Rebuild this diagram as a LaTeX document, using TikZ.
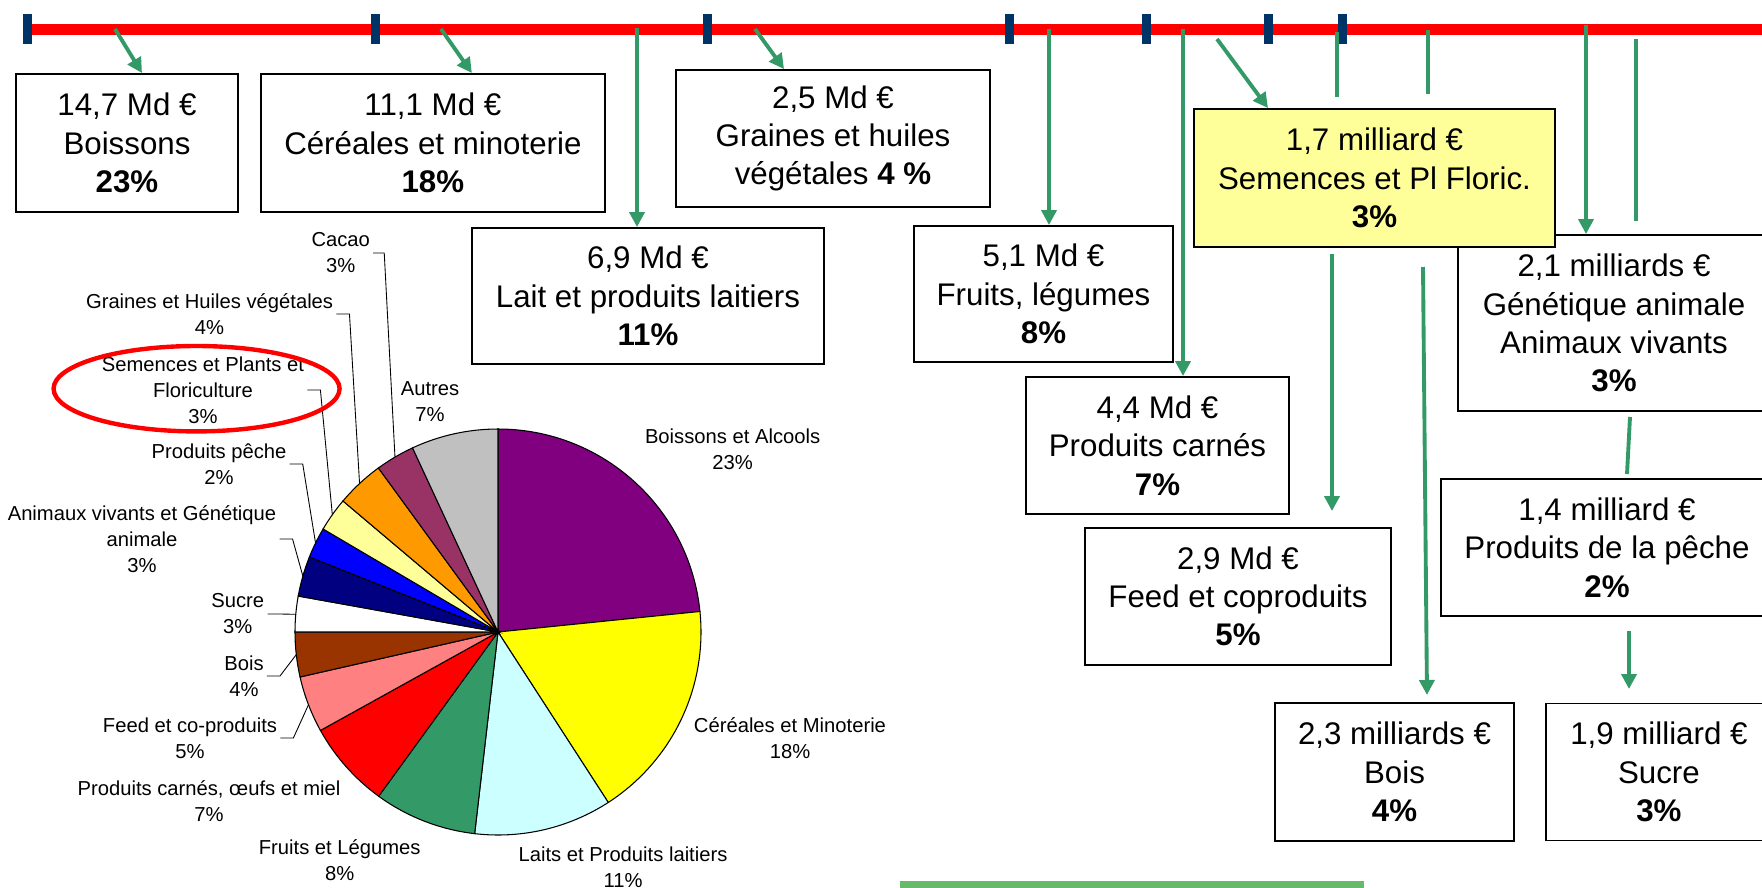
\documentclass[tikz,border=0pt]{standalone}
\usepackage{fontspec}
\setmainfont{Liberation Sans}
\usetikzlibrary{positioning, arrows.meta, calc}
\definecolor{flowgreen}{RGB}{51,153,102}
\definecolor{barnavy}{RGB}{0,51,102}
\definecolor{boxyellow}{RGB}{255,255,153}
\definecolor{bargreen}{RGB}{102,187,106}
\definecolor{cPurple}{RGB}{128,0,128}
\definecolor{cYellow}{RGB}{255,255,0}
\definecolor{cCyan}{RGB}{204,255,255}
\definecolor{cGreen}{RGB}{51,153,102}
\definecolor{cRed}{RGB}{255,0,0}
\definecolor{cSalmon}{RGB}{255,128,128}
\definecolor{cBrown}{RGB}{153,51,0}
\definecolor{cNavy}{RGB}{0,0,128}
\definecolor{cBlue}{RGB}{0,0,255}
\definecolor{cLight}{RGB}{255,255,153}
\definecolor{cOrange}{RGB}{255,153,0}
\definecolor{cPlum}{RGB}{153,51,102}
\definecolor{cGrey}{RGB}{192,192,192}
\tikzset{
  block/.style={
    draw,
    rectangle,
    line width=1.1pt,
    align=center,
    inner sep=0pt,
    font=\fontsize{17.8}{21.8}\selectfont
  },
  pielabel/.style={
    align=center,
    inner sep=1.7pt,
    font=\fontsize{11.5}{14.8}\selectfont
  },
  flow/.style={
    draw=flowgreen,
    line width=2.2pt,
    -{Triangle[length=0.3cm, width=0.3cm]}
  },
  flowline/.style={draw=flowgreen, line width=2.2pt},
  leader/.style={draw=black, line width=0.5pt},
  tickmark/.style={fill=barnavy}
}
\newcommand{\pieslice}[3]{%
  \filldraw[fill=#3, draw=black, line width=0.6pt] (pie) -- ++(#1:203)
    arc[start angle=#1, end angle=#2, radius=203] -- cycle;}

\begin{document}
\begin{tikzpicture}[x=0.02cm, y=-0.02cm]
        \useasboundingbox (0,0) rectangle (1762,887);
        \clip (0,0) rectangle (1762,887);

        % time line
        \draw[red, line width=0.214cm] (27,29.5) -- (1780,29.5);
        \fill[tickmark] (22.5,14) rectangle (31.5,44);
        \fill[tickmark] (370.5,14) rectangle (379.5,44);
        \fill[tickmark] (702.5,14) rectangle (711.5,44);
        \fill[tickmark] (1004.5,14) rectangle (1013.5,44);
        \fill[tickmark] (1141.5,14) rectangle (1150.5,44);
        \fill[tickmark] (1263.5,14) rectangle (1272.5,44);
        \fill[tickmark] (1337.5,14) rectangle (1346.5,44);

        % boxes
        \node[block, minimum width=4.44cm, minimum height=2.76cm] (boissons) at (127,143) {14,7 Md €\\Boissons\\\textbf{23\%}};
        \node[block, minimum width=6.88cm, minimum height=2.76cm, right=0.42cm of boissons] (cereales) {11,1 Md €\\Céréales et minoterie\\\textbf{18\%}};
        \node[block, minimum width=6.28cm, minimum height=2.74cm] (graines) at (833,138.5) {2,5 Md €\\Graines et huiles\\végétales \textbf{4 \%}};
        \node[block, minimum width=7.04cm, minimum height=2.72cm] (lait) at (648,296) {6,9 Md €\\Lait et produits laitiers\\\textbf{11\%}};
        \node[block, minimum width=5.18cm, minimum height=2.72cm] (fruits) at (1043.5,294) {5,1 Md €\\Fruits, légumes\\\textbf{8\%}};
        \node[block, minimum width=6.24cm, minimum height=3.52cm] (genetique) at (1614,323) {2,1 milliards €\\Génétique animale\\Animaux vivants\\\textbf{3\%}};
        \node[block, fill=boxyellow, minimum width=7.22cm, minimum height=2.76cm] (semences) at (1374.5,178) {1,7 milliard €\\Semences et Pl Floric.\\\textbf{3\%}};
        \node[block, minimum width=5.26cm, minimum height=2.74cm] (carnes) at (1157.5,445.5) {4,4 Md €\\Produits carnés\\\textbf{7\%}};
        \node[block, minimum width=6.12cm, minimum height=2.74cm] (feed) at (1238,596.5) {2,9 Md €\\Feed et coproduits\\\textbf{5\%}};
        \node[block, minimum width=6.64cm, minimum height=2.74cm] (peche) at (1607,547.5) {1,4 milliard €\\Produits de la pêche\\\textbf{2\%}};
        \node[block, minimum width=4.78cm, minimum height=2.76cm] (bois) at (1394.5,772) {2,3 milliards €\\Bois\\\textbf{4\%}};
        \node[block, minimum width=4.52cm, minimum height=2.74cm, right=0.6cm of bois] (sucre) {1,9 milliard €\\Sucre\\\textbf{3\%}};

        % arrows from the time line
        \coordinate (s1) at (115,29);
        \coordinate (s2) at (441,29);
        \coordinate (s3) at (637,28);
        \coordinate (s4) at (755,29);
        \coordinate (s5) at (1049,29);
        \coordinate (s6) at (1183,29);
        \coordinate (s7) at (1217,39);
        \coordinate (s8) at (1586,25);
        \draw[flow] (s1) -- ($(boissons.north)+(15,0)$);
        \draw[flow] (s2) -- ($(cereales.north)+(39,0)$);
        \draw[flow] (s3) -- (lait.north -| s3);
        \draw[flow] (s4) -- ($(graines.north)+(-49,0)$);
        \draw[flow] (s5) -- (fruits.north -| s5);
        \draw[flow] (s6) -- (carnes.north -| s6);
        \draw[flow] (s7) -- ($(semences.north)+(-106.5,0)$);
        \draw[flow] (s8) -- (genetique.north -| s8);

        % loose strokes
        \coordinate (h1) at (1337,32);
        \coordinate (h2) at (1337,97);
        \coordinate (i1) at (1428,30);
        \coordinate (i2) at (1428,94);
        \coordinate (k1) at (1636,39);
        \coordinate (k2) at (1636,221);
        \coordinate (l1) at (1332,254);
        \coordinate (l2) at (1332,511);
        \coordinate (m1) at (1423,267);
        \coordinate (m2) at (1427,695);
        \coordinate (n1) at (1630,417);
        \coordinate (n2) at (1627,474);
        \coordinate (o1) at (1629,631);
        \coordinate (o2) at (1629,689);
        \draw[flowline] (h1) -- (h2);
        \draw[flowline] (i1) -- (i2);
        \draw[flowline] (k1) -- (k2);
        \draw[flow] (l1) -- (l2);
        \draw[flow] (m1) -- (m2);
        \draw[flowline] (n1) -- (n2);
        \draw[flow] (o1) -- (o2);

        % pie
        \coordinate (pie) at (498,632);
        \pieslice{-90}{-5.8}{cPurple}
        \pieslice{-5.8}{57.1}{cYellow}
        \pieslice{57.1}{96.6}{cCyan}
        \pieslice{96.6}{126}{cGreen}
        \pieslice{126}{151}{cRed}
        \pieslice{151}{167.2}{cSalmon}
        \pieslice{167.2}{180}{cBrown}
        \pieslice{180}{190.2}{white}
        \pieslice{190.2}{201.7}{cNavy}
        \pieslice{201.7}{210.5}{cBlue}
        \pieslice{210.5}{220.2}{cLight}
        \pieslice{220.2}{233.9}{cOrange}
        \pieslice{233.9}{245.1}{cPlum}
        \pieslice{245.1}{270}{cGrey}

        % pie labels
        \node[pielabel] (lBoissons) at (732.6,449) {Boissons et Alcools\\23\%};
        \node[pielabel] (lCereales) at (790,738) {Céréales et Minoterie\\18\%};
        \node[pielabel] (lLaits) at (623,867.5) {Laits et Produits laitiers\\11\%};
        \node[pielabel] (lFruits) at (339.7,860.5) {Fruits et Légumes\\8\%};
        \node[pielabel] (lCarnes) at (209,801) {Produits carnés, œufs et miel\\7\%};
        \node[pielabel] (lAutres) at (430,401.5) {Autres\\7\%};
        \node[pielabel] (lFeed) at (190,738) {Feed et co-produits\\5\%};
        \node[pielabel] (lBois) at (244,676) {Bois\\4\%};
        \node[pielabel] (lSucre) at (237.8,614) {Sucre\\3\%};
        \node[pielabel] (lAnimaux) at (142,539) {Animaux vivants et Génétique\\animale\\3\%};
        \node[pielabel] (lPeche) at (219,464) {Produits pêche\\2\%};
        \node[pielabel] (lSemences) at (203,390) {Semences et Plants et\\Floriculture\\3\%};
        \node[pielabel] (lGraines) at (209.6,314) {Graines et Huiles végétales\\4\%};
        \node[pielabel] (lCacao) at (340.7,253) {Cacao\\3\%};
        \draw[leader] (lFeed.east) -- ++(13,0) -- ($(pie)+(159:203)$);
        \draw[leader] (lBois.east) -- ++(13,0) -- ($(pie)+(173.6:203)$);
        \draw[leader] (lSucre.east) -- ++(13,0) -- ($(pie)+(185:203)$);
        \draw[leader] (lAnimaux.east) -- ++(13,0) -- ($(pie)+(196:203)$);
        \draw[leader] (lPeche.east) -- ++(13,0) -- ($(pie)+(206:203)$);
        \draw[leader] (lSemences.east) -- ++(13,0) -- ($(pie)+(215.3:203)$);
        \draw[leader] (lGraines.east) -- ++(13,0) -- ($(pie)+(227:203)$);
        \draw[leader] (lCacao.east) -- ++(11,0) -- ($(pie)+(239.5:203)$);

        % highlight
        \draw[red, line width=2.5pt] (196.6,388.7) ellipse [x radius=143, y radius=42.7];

        % bottom bar
        \fill[bargreen] (900,881) rectangle (1364,895);
      \end{tikzpicture}
\end{document}
